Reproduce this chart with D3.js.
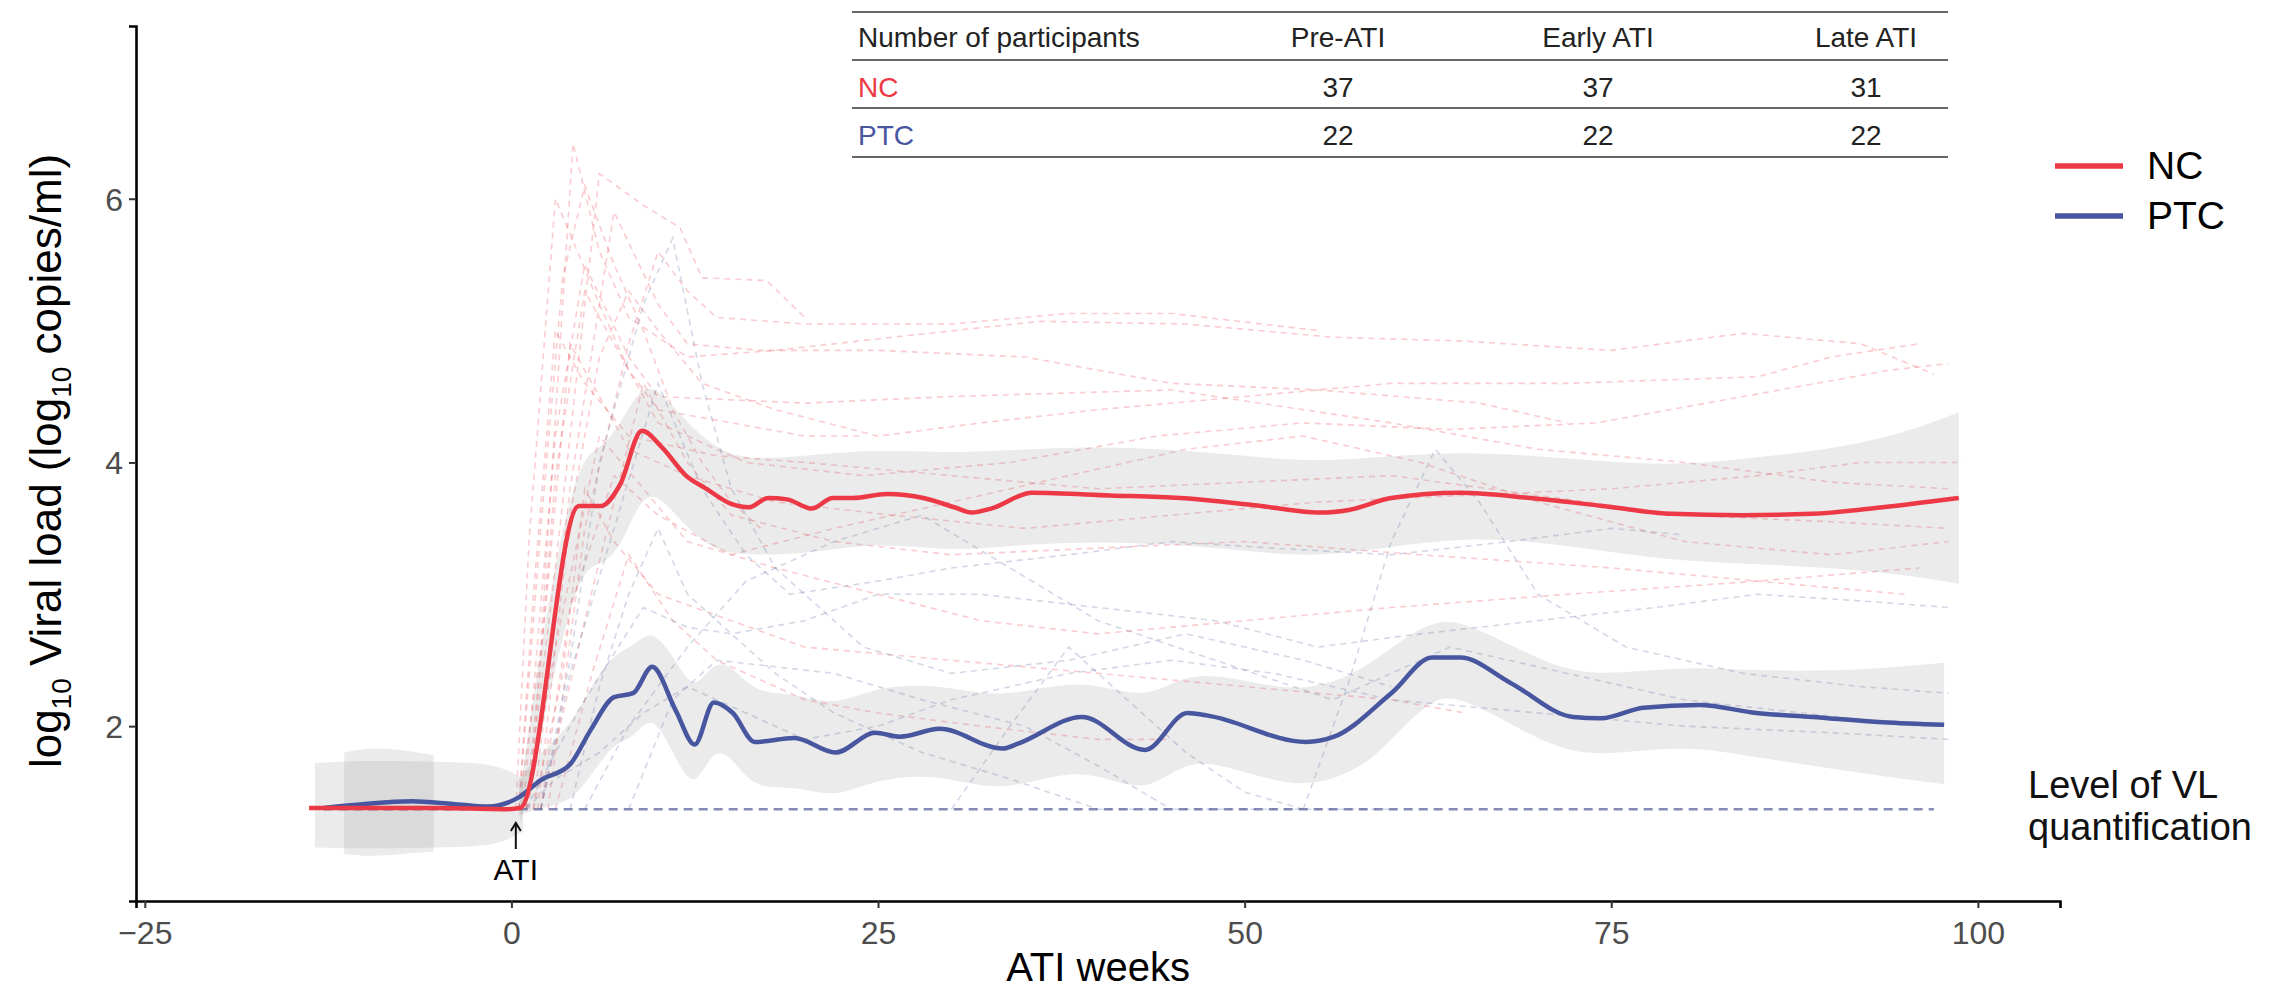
<!DOCTYPE html>
<html>
<head>
<meta charset="utf-8">
<script src="https://cdn.jsdelivr.net/npm/d3@7"></script>
<style>
  body { margin: 0; background: #fff; }
  svg { display: block; }
  text { font-family: "Liberation Sans", Arial, Helvetica, sans-serif; }
</style>
</head>
<body>
<svg id="chart" width="2291" height="992"></svg>
<script>
// ---- data ----
const loq = 1.37;

// smoothed group means
const ncWeeks = [-13.8, -10, -5, -0.5, 0.6, 4.6, 6.1, 7.4, 8.9, 10.3, 11.9, 13.3, 14.9, 16.2, 17.5, 18.8, 20.5, 21.9, 23.3, 25.6, 28.1, 30.2, 31.4, 32.7, 35.5, 40.8, 45.6, 50.4, 55.2, 57.1, 60, 64.7, 69.5, 74.4, 79.1, 83.9, 88.7, 93.5, 98.7];
const ncMean  = [1.38, 1.38, 1.38, 1.37, 1.38, 3.67, 3.67, 3.83, 4.24, 4.11, 3.9, 3.8, 3.69, 3.66, 3.73, 3.72, 3.65, 3.73, 3.73, 3.76, 3.73, 3.66, 3.62, 3.65, 3.77, 3.75, 3.73, 3.68, 3.62, 3.64, 3.73, 3.77, 3.73, 3.67, 3.61, 3.6, 3.61, 3.66, 3.73];

const ptcWeeks = [-12.8, -10, -6.8, -4, -1.6, 0.5, 2, 4, 5.4, 7, 8.3, 9.6, 11.2, 12.5, 13.8, 15.1, 16.6, 19.3, 22.1, 24.8, 26.5, 29.2, 33.5, 34.6, 38.9, 43.2, 46.1, 47.5, 54.2, 56.1, 60, 62.8, 64.7, 68.1, 72.4, 74.3, 77.2, 81, 84.9, 88.7, 93.5, 97.7];
const ptcMean  = [1.38, 1.41, 1.43, 1.41, 1.39, 1.46, 1.59, 1.71, 1.97, 2.22, 2.25, 2.45, 2.12, 1.86, 2.18, 2.1, 1.88, 1.91, 1.8, 1.95, 1.92, 1.98, 1.83, 1.87, 2.07, 1.82, 2.1, 2.08, 1.88, 1.92, 2.25, 2.52, 2.52, 2.33, 2.07, 2.06, 2.14, 2.16, 2.1, 2.07, 2.03, 2.01];

// confidence bands
const ncBandWeeks = [0.6, 2.5, 4.6, 6.1, 7.5, 9, 10.5, 12, 14, 16, 20, 25, 30, 35, 40, 45, 50, 55, 60, 65, 70, 75, 80, 85, 90, 95, 98.7];
const ncBandHigh  = [1.5, 3.0, 4.05, 4.1, 4.3, 4.62, 4.5, 4.3, 4.1, 4.02, 4.05, 4.1, 4.07, 4.1, 4.12, 4.1, 4.05, 4.0, 4.05, 4.08, 4.05, 4.0, 3.98, 4.04, 4.1, 4.22, 4.38];
const ncBandLow   = [1.26, 2.2, 3.2, 3.22, 3.35, 3.8, 3.7, 3.5, 3.32, 3.3, 3.3, 3.4, 3.32, 3.38, 3.4, 3.38, 3.33, 3.28, 3.36, 3.43, 3.4, 3.32, 3.25, 3.23, 3.2, 3.15, 3.08];

const ptcBandWeeks = [0.5, 2, 4, 5.4, 7, 8.3, 9.6, 11.2, 12.5, 13.8, 15.1, 16.6, 19.3, 22.1, 24.8, 29.2, 33.5, 38.9, 43.2, 46.1, 50, 54.2, 58, 60, 62.8, 64.7, 68.1, 72.4, 77.2, 81, 85, 90, 93.5, 97.7];
const ptcBandHigh  = [1.6, 1.8, 2.0, 2.3, 2.55, 2.6, 2.75, 2.5, 2.25, 2.5, 2.45, 2.25, 2.25, 2.15, 2.3, 2.32, 2.2, 2.38, 2.18, 2.42, 2.35, 2.25, 2.42, 2.6, 2.8, 2.8, 2.62, 2.38, 2.42, 2.45, 2.42, 2.42, 2.44, 2.48];
const ptcBandLow   = [1.32, 1.38, 1.42, 1.62, 1.88, 1.9, 2.12, 1.75, 1.5, 1.85, 1.75, 1.52, 1.55, 1.45, 1.6, 1.64, 1.48, 1.72, 1.45, 1.78, 1.65, 1.52, 1.68, 1.9, 2.22, 2.22, 2.02, 1.76, 1.82, 1.84, 1.76, 1.68, 1.62, 1.56];

// pre-ATI bands
const preNcWeeks = [-13.4, -10, -5, -1, 0.8];
const preNcHigh  = [1.72, 1.74, 1.73, 1.72, 1.6];
const preNcLow   = [1.08, 1.07, 1.08, 1.09, 1.2];
const prePtcWeeks = [-11.4, -9.5, -7.5, -5.3];
const prePtcHigh  = [1.8, 1.84, 1.82, 1.78];
const prePtcLow   = [1.03, 1.01, 1.03, 1.05];

// individual participants (week, log10 VL)
const ncIndividuals = [
  [[0.5,1.37],[2,2.6],[4.2,6.42],[6,5.6],[8,5.1],[12,4.8],[18,4.85],[26,4.95],[36,5.07],[46,5.05],[56,4.95],[65,4.92],[75,4.85],[84,4.98],[92,4.9],[97,4.67]],
  [[1,1.37],[3,3.2],[6,6.19],[9,5.95],[11.5,5.78],[13,5.4],[17.4,5.38],[20,5.1]],
  [[1.5,1.37],[4,3.8],[7,5.9],[10,5.2],[12,4.9],[17,4.85],[25,4.85],[35,4.8],[45,4.6],[55,4.55],[66,4.45],[72,4.3]],
  [[0.8,1.37],[3,4.2],[5,5.5],[8,4.8],[10,4.5],[20,4.45],[30,4.5],[45,4.55],[60,4.3],[70,4.1],[80,4.0],[90,3.85],[98,3.8]],
  [[0.5,1.37],[1.5,3.0],[3,5.0],[5,4.6],[8,4.2],[14,4.05],[20,4.0],[30,3.9],[40,3.8],[50,3.85],[60,3.9],[70,3.75],[80,3.6],[90,3.55],[98,3.5]],
  [[2,1.37],[5,2.8],[9,4.6],[12,4.0],[15,3.6],[22,3.4],[30,3.3],[40,3.35],[50,3.4],[62,3.3],[75,3.2],[85,3.1],[95,3.0]],
  [[1,1.37],[3,2.6],[6,4.2],[9,3.8],[12,3.4],[18,3.2],[25,3.0],[32,2.8],[40,2.7],[50,2.8],[60,2.9],[72,3.0],[85,3.1],[96,3.2]],
  [[1.5,1.37],[3.5,2.4],[5,3.8],[7,3.4],[10,3.0],[15,2.8],[20,2.6],[30,2.5],[40,2.4],[50,2.3],[60,2.2],[65,2.1]],
  [[0.3,1.37],[1.2,3.4],[3,6.0],[4.5,5.6],[6,5.2],[8,4.7],[10,4.4],[15,4.3],[20,4.2],[24,4.2]],
  [[2.5,1.37],[5,3.5],[8,4.9],[10,5.6],[12,5.3],[14,5.1],[20,5.05],[30,5.05],[38,5.13],[45,5.13],[55,5.0]],
  [[1,1.37],[2.5,3.1],[4,4.9],[6,4.5],[8,4.1],[12,3.9],[18,3.7],[26,3.6],[35,3.5],[45,3.6],[55,3.7],[65,3.75],[75,3.8],[85,3.9],[92,4.0],[99,4.0]],
  [[3,1.37],[5.5,2.4],[8,3.3],[11,2.8],[14,2.5],[20,2.2],[25,2.1],[32,2.0],[40,1.9],[45,1.9]],
  [[1.8,1.37],[4,3.6],[6,4.8],[8,5.3],[10,5.0],[13,4.6],[18,4.4],[25,4.2],[32,4.3],[40,4.4],[50,4.5],[60,4.6],[72,4.6],[85,4.65],[90,4.8],[96,4.9]],
  [[0.5,1.37],[2,3.5],[3.5,5.4],[5,6.1],[7,5.5],[9,5.0],[11,4.4],[13,4.0],[15,3.7],[17,3.5]],
  [[2,1.37],[4,2.9],[7,3.9],[10,3.6],[15,3.3],[22,3.5],[30,3.7],[38,3.9],[46,4.1],[54,4.2],[62,4.0],[70,3.7],[80,3.4],[90,3.3],[98,3.4]],
  [[1.2,1.37],[3,3.9],[5,5.3],[7,4.9],[10,4.3],[16,4.0],[24,3.9],[34,4.0],[44,4.2],[54,4.3],[64,4.25],[74,4.3],[84,4.5],[94,4.7],[98,4.75]]
];
const ptcIndividuals = [
  [[2,1.37],[4,2.5],[6,4.0],[9,5.2],[11,5.7],[13,4.6],[15,3.8],[18,3.2],[24,2.6],[30,2.4],[38,2.5],[46,2.7],[54,2.5],[60,2.3]],
  [[4,1.37],[6,2.3],[8,3.0],[10,3.5],[12,3.0],[14,2.8],[18,2.4],[22,2.1],[28,1.8],[34,1.6],[40,1.37],[60,1.37]],
  [[54,1.37],[57,2.3],[60,3.4],[63,4.1],[66,3.7],[70,3.0],[76,2.6],[84,2.4],[92,2.3],[98,2.25]],
  [[1,1.37],[3,1.8],[5,2.2],[9,2.9],[12,2.75],[15,2.7],[20,2.8],[25,3.0],[32,3.0],[40,2.9],[48,2.8],[55,2.6],[62,2.7],[70,2.8],[78,2.9],[85,3.0],[92,2.95],[98,2.9]],
  [[8,1.37],[11,2.2],[14,2.5],[18,2.45],[22,2.4],[28,2.2],[35,2.0],[40,1.7],[45,1.37]],
  [[1,1.37],[3,1.6],[6,1.8],[9,2.1],[12,2.3],[16,2.1],[20,1.9],[25,2.0],[30,2.2],[38,2.4],[45,2.5],[52,2.4],[60,2.2],[70,2.1],[80,2.0],[90,1.95],[98,1.9]],
  [[2,1.37],[4,2.4],[7,3.5],[10,4.6],[13,3.8],[16,3.3],[19,3.0],[25,3.1],[30,3.2],[38,3.3],[45,3.4],[52,3.35],[60,3.3],[68,3.4],[75,3.5],[80,3.45]],
  [[5,1.37],[8,2.0],[12,2.6],[16,3.1],[22,3.4],[28,3.6],[34,3.2],[40,2.8],[48,2.5],[56,2.2],[64,2.6],[72,2.4],[80,2.2],[88,2.1],[96,2.0]],
  [[30,1.37],[34,2.0],[38,2.6],[42,2.2],[46,1.8],[50,1.5],[54,1.37]]
];
const loqWeeks = [-12.8, 97];

// participant table
const tableHeader = ["Number of participants", "Pre-ATI", "Early ATI", "Late ATI"];
const tableGroups = ["NC", "PTC"];
const tableCounts = [[37, 37, 31], [22, 22, 22]];

const xTicks = [-25, 0, 25, 50, 75, 100];
const yTicks = [2, 4, 6];

// ---- drawing ----
const red = "#ec3945", blue = "#47569f";
const svg = d3.select("#chart");
svg.append("rect").attr("width", 2291).attr("height", 992).attr("fill", "#fff");

const x = d3.scaleLinear().domain([-25.6, 105.6]).range([136, 2060]);
const y = d3.scaleLinear().domain([0.674, 7.31]).range([901, 26]);

const zip = (a, b) => a.map((v, i) => [v, b[i]]);
const line = d3.line().x(d => x(d[0])).y(d => y(d[1]));
const band = (w, lo, hi) => w.map((v, i) => ({ w: v, lo: lo[i], hi: hi[i] }));
const area = d3.area().x(d => x(d.w)).y0(d => y(d.lo)).y1(d => y(d.hi)).curve(d3.curveBasis);

const plot = svg.append("g");

// individual trajectories
plot.selectAll(".nc-ind").data(ncIndividuals).enter().append("path")
  .attr("class", "nc-ind")
  .attr("d", line)
  .attr("fill", "none")
  .attr("stroke", "rgba(236,57,69,0.26)")
  .attr("stroke-width", 1.6)
  .attr("stroke-dasharray", "6,5");

plot.selectAll(".ptc-ind").data(ptcIndividuals).enter().append("path")
  .attr("class", "ptc-ind")
  .attr("d", line)
  .attr("fill", "none")
  .attr("stroke", "rgba(71,86,159,0.24)")
  .attr("stroke-width", 1.6)
  .attr("stroke-dasharray", "6,5");

plot.append("path")
  .attr("d", line(loqWeeks.map(w => [w, loq])))
  .attr("stroke", "rgba(80,90,150,0.7)")
  .attr("stroke-width", 2.6)
  .attr("stroke-dasharray", "9,6");

// confidence ribbons
[[preNcWeeks, preNcLow, preNcHigh], [prePtcWeeks, prePtcLow, prePtcHigh],
 [ncBandWeeks, ncBandLow, ncBandHigh], [ptcBandWeeks, ptcBandLow, ptcBandHigh]]
  .forEach(([w, lo, hi]) => {
    plot.append("path")
      .attr("d", area(band(w, lo, hi)))
      .attr("fill", "#8a8a8a")
      .attr("fill-opacity", 0.17);
  });

// mean lines
const meanLine = d3.line().x(d => x(d[0])).y(d => y(d[1])).curve(d3.curveMonotoneX);
plot.append("path").attr("d", meanLine(zip(ptcWeeks, ptcMean)))
  .attr("fill", "none").attr("stroke", blue).attr("stroke-width", 4.5).attr("stroke-linejoin", "round");
plot.append("path").attr("d", meanLine(zip(ncWeeks, ncMean)))
  .attr("fill", "none").attr("stroke", red).attr("stroke-width", 4.5).attr("stroke-linejoin", "round");

// axes
const xAxis = svg.append("g").attr("transform", "translate(0,901)")
  .call(d3.axisBottom(x).tickValues(xTicks).tickSize(7).tickPadding(6).tickFormat(d => d < 0 ? "\u2212" + Math.abs(d) : d));
const yAxis = svg.append("g").attr("transform", "translate(136,0)")
  .call(d3.axisLeft(y).tickValues(yTicks).tickSize(7).tickPadding(6).tickFormat(d3.format("d")));
[xAxis, yAxis].forEach(g => {
  g.select(".domain").attr("stroke", "#000").attr("stroke-width", 2.6);
  g.selectAll(".tick line").attr("stroke", "#333").attr("stroke-width", 2);
  g.selectAll(".tick text").attr("fill", "#4d4d4d").attr("font-size", 32)
    .attr("font-family", "Liberation Sans, Arial, sans-serif");
});
xAxis.selectAll(".tick text").attr("dy", "0.95em");
yAxis.selectAll(".tick text").attr("dy", "0.36em");

// axis titles
svg.append("text").attr("x", 1098).attr("y", 981).attr("text-anchor", "middle")
  .attr("font-size", 40).text("ATI weeks");

const yt = svg.append("text").attr("transform", "translate(61,461) rotate(-90)")
  .attr("text-anchor", "middle").attr("font-size", 44);
yt.append("tspan").text("log");
yt.append("tspan").attr("font-size", 28).attr("dy", 10).text("10");
yt.append("tspan").attr("dy", -10).text(" Viral load (log");
yt.append("tspan").attr("font-size", 28).attr("dy", 10).text("10");
yt.append("tspan").attr("dy", -10).text(" copies/ml)");

// ATI marker
svg.append("line").attr("x1", x(0.3)).attr("x2", x(0.3)).attr("y1", 849).attr("y2", 824)
  .attr("stroke", "#111").attr("stroke-width", 2);
svg.append("path")
  .attr("d", `M${x(0.3) - 5},${831} L${x(0.3)},${823} L${x(0.3) + 5},${831}`)
  .attr("fill", "none").attr("stroke", "#111").attr("stroke-width", 2);
svg.append("text").attr("x", x(0.3)).attr("y", 880).attr("text-anchor", "middle")
  .attr("font-size", 30).text("ATI");

// LOQ label
const lq = svg.append("text").attr("x", 2028).attr("y", 798).attr("font-size", 38).attr("fill", "#111");
lq.append("tspan").attr("x", 2028).text("Level of VL");
lq.append("tspan").attr("x", 2028).attr("dy", 42).text("quantification");

// legend
const legend = svg.append("g");
[["NC", red], ["PTC", blue]].forEach(([lab, col], i) => {
  const ly = 166 + i * 50;
  legend.append("line").attr("x1", 2055).attr("x2", 2123).attr("y1", ly).attr("y2", ly)
    .attr("stroke", col).attr("stroke-width", 5.5);
  legend.append("text").attr("x", 2147).attr("y", ly + 13).attr("font-size", 39).text(lab);
});

// participant table
const tbl = svg.append("g");
const tLeft = 852, tRight = 1948;
const colX = [858, 1338, 1598, 1866];
[12, 60, 108, 157].forEach(ly => {
  tbl.append("line").attr("x1", tLeft).attr("x2", tRight).attr("y1", ly).attr("y2", ly)
    .attr("stroke", "#666").attr("stroke-width", 2.2);
});
tableHeader.forEach((h, i) => {
  tbl.append("text").attr("x", colX[i]).attr("y", 47)
    .attr("text-anchor", i === 0 ? "start" : "middle")
    .attr("font-size", 28).attr("fill", "#222").text(h);
});
tableGroups.forEach((g, r) => {
  const ry = 97 + r * 48;
  tbl.append("text").attr("x", colX[0]).attr("y", ry).attr("font-size", 28)
    .attr("fill", r === 0 ? red : blue).text(g);
  tableCounts[r].forEach((c, j) => {
    tbl.append("text").attr("x", colX[j + 1]).attr("y", ry).attr("text-anchor", "middle")
      .attr("font-size", 28).attr("fill", "#222").text(c);
  });
});
</script>
</body>
</html>
